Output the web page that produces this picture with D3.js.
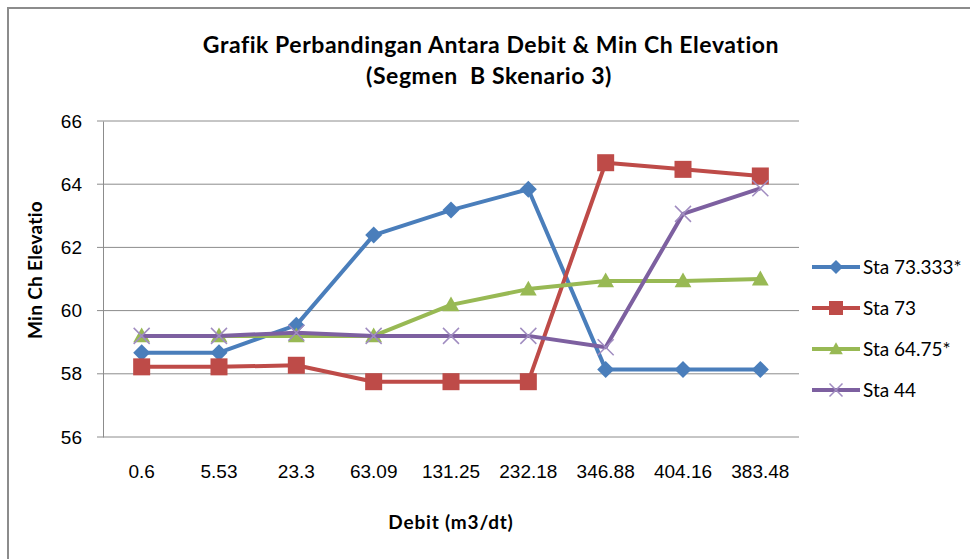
<!DOCTYPE html>
<html>
<head>
  <meta charset="UTF-8">
  <title>Grafik Perbandingan Antara Debit & Min Ch Elevation</title>
  <script src="https://cdn.jsdelivr.net/npm/d3@7/dist/d3.min.js"></script>
  <style>
    body { margin: 0; background: #fff; }
    svg { display: block; font-family: Lato, "Open Sans", sans-serif; }
  </style>
</head>
<body>

<div class="chart"></div>

<script>

  // data
  var categories = ['0.6', '5.53', '23.3', '63.09', '131.25', '232.18', '346.88', '404.16', '383.48'];
  var sta73333 = [58.67, 58.67, 59.54, 62.39, 63.18, 63.84, 58.14, 58.14, 58.14];
  var sta73 = [58.22, 58.22, 58.27, 57.75, 57.75, 57.75, 64.68, 64.47, 64.26];
  var sta6475 = [59.2, 59.2, 59.2, 59.2, 60.18, 60.68, 60.94, 60.94, 61.0];
  var sta44 = [59.2, 59.2, 59.3, 59.2, 59.2, 59.2, 58.84, 63.06, 63.87];
  var yTicks = [56, 58, 60, 62, 64, 66];

  var series = [
    { name: 'Sta 73.333*', values: sta73333, color: '#4a7ebb', marker: 'diamond' },
    { name: 'Sta 73', values: sta73, color: '#be4b48', marker: 'square' },
    { name: 'Sta 64.75*', values: sta6475, color: '#98b954', marker: 'triangle' },
    { name: 'Sta 44', values: sta44, color: '#7d60a0', marker: 'x' }
  ];

  var W = 970, H = 559;
  var margin = { top: 121, right: 171, bottom: 122, left: 103 };
  var width = W - margin.left - margin.right;
  var height = H - margin.top - margin.bottom;

  var svg = d3.select('.chart')
    .append('svg')
      .attr('width', W)
      .attr('height', H);

  // outer frame (right and bottom edges fall outside the picture)
  svg.append('rect')
    .attr('x', 8).attr('y', 8)
    .attr('width', W + 20).attr('height', H + 20)
    .attr('fill', 'none')
    .attr('stroke', '#8c8c8c')
    .attr('stroke-width', 2);

  var g = svg.append('g')
    .attr('transform', 'translate(' + margin.left + ',' + margin.top + ')');

  var x = d3.scaleBand().domain(categories).range([0, width]);
  var y = d3.scaleLinear().domain([56, 66]).range([height, 0]);

  // gridlines
  g.append('g')
    .selectAll('line')
    .data(yTicks)
    .enter().append('line')
      .attr('x1', -6).attr('x2', width)
      .attr('y1', d => y(d)).attr('y2', d => y(d))
      .attr('stroke', '#8c8c8c')
      .attr('stroke-width', 1);

  // y axis
  var yAxis = d3.axisLeft(y).tickValues(yTicks).tickSize(0).tickPadding(21);
  g.append('g')
    .call(yAxis)
    .call(s => s.select('.domain').attr('stroke', '#8c8c8c'))
    .selectAll('text')
      .style('font-size', '19px')
      .style('fill', '#000');

  // x axis labels
  var xAxis = d3.axisBottom(x).tickSize(0).tickPadding(28);
  g.append('g')
    .attr('transform', 'translate(0,' + height + ')')
    .call(xAxis)
    .call(s => s.select('.domain').remove())
    .selectAll('text')
      .style('font-size', '19px')
      .style('fill', '#000');

  var line = d3.line()
    .x((d, i) => x(categories[i]) + x.bandwidth() / 2)
    .y(d => y(d));

  function drawMarker(sel, type, color, s) {
    if (type === 'diamond') {
      sel.append('path')
        .attr('d', `M0,${-s}L${s},0L0,${s}L${-s},0Z`)
        .attr('fill', color);
    } else if (type === 'square') {
      sel.append('rect')
        .attr('x', -s).attr('y', -s)
        .attr('width', 2 * s).attr('height', 2 * s)
        .attr('fill', color);
    } else if (type === 'triangle') {
      sel.append('path')
        .attr('d', `M0,${-s * 1.05}L${s * 1.05},${s * 0.8}L${-s * 1.05},${s * 0.8}Z`)
        .attr('fill', color);
    } else {
      sel.append('path')
        .attr('d', `M${-s},${-s}L${s},${s}M${-s},${s}L${s},${-s}`)
        .attr('stroke', '#a08cc0')
        .attr('stroke-width', 1.5)
        .attr('fill', 'none');
    }
  }

  var sizes = { diamond: 8.5, square: 8.5, triangle: 8, x: 8 };

  series.forEach(function (s) {
    var sg = g.append('g');
    sg.append('path')
      .datum(s.values)
      .attr('d', line)
      .attr('fill', 'none')
      .attr('stroke', s.color)
      .attr('stroke-width', 4)
      .attr('stroke-linejoin', 'round');
    s.values.forEach(function (v, i) {
      var m = sg.append('g')
        .attr('transform', `translate(${x(categories[i]) + x.bandwidth() / 2},${y(v)})`);
      drawMarker(m, s.marker, s.color, sizes[s.marker]);
    });
  });

  // title
  var title = svg.append('text')
    .attr('text-anchor', 'middle')
    .style('font-size', '23px')
    .style('font-weight', 'bold')
    .style('letter-spacing', '0.55px')
    .style('fill', '#000');
  title.append('tspan').attr('x', 491).attr('y', 53).text('Grafik Perbandingan Antara Debit & Min Ch Elevation');
  title.append('tspan').attr('x', 489).attr('y', 84).text('(Segmen  B Skenario 3)').style('white-space', 'pre');

  // axis titles
  svg.append('text')
    .attr('x', 451).attr('y', 529)
    .attr('text-anchor', 'middle')
    .style('font-size', '19px')
    .style('font-weight', 'bold')
    .style('letter-spacing', '0.8px')
    .text('Debit (m3/dt)');

  svg.append('text')
    .attr('transform', 'translate(42,270) rotate(-90)')
    .attr('text-anchor', 'middle')
    .style('font-size', '19px')
    .style('font-weight', 'bold')
    .style('letter-spacing', '0.3px')
    .text('Min Ch Elevatio');

  // legend
  var legend = svg.append('g')
    .attr('transform', 'translate(812,267)');
  series.forEach(function (s, i) {
    var lg = legend.append('g').attr('transform', `translate(0,${i * 41})`);
    lg.append('line')
      .attr('x1', 0).attr('x2', 48)
      .attr('stroke', s.color)
      .attr('stroke-width', 4);
    var m = lg.append('g').attr('transform', 'translate(24,0)');
    drawMarker(m, s.marker, s.color, sizes[s.marker] - 1.5);
    lg.append('text')
      .attr('x', 51).attr('y', 7)
      .style('font-size', '19px')
      .text(s.name);
  });

</script>

</body>
</html>
